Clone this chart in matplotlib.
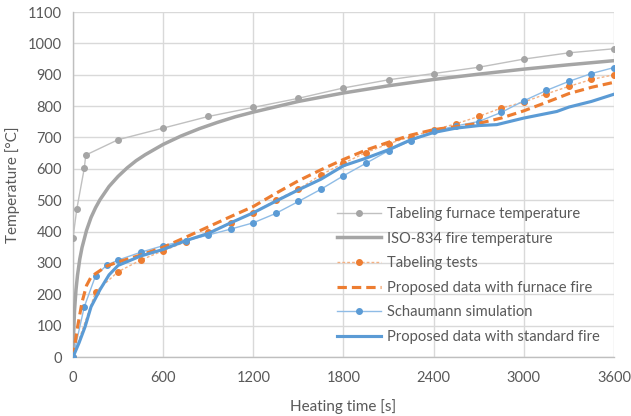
import matplotlib
matplotlib.use("Agg")
import matplotlib.pyplot as plt

# Tabeling furnace temperature
furn_t = [0, 25, 75, 85, 300, 600, 900, 1200, 1500, 1800, 2100, 2400, 2700, 3000, 3300, 3600]
furn_T = [380, 471, 602, 644, 693, 730, 767, 796, 825, 858, 884, 904, 924, 950, 970, 983]

# ISO-834 fire temperature
iso_t = [0, 10, 20, 30, 45, 60, 90, 120, 150, 180, 240, 300, 360, 420, 480, 600, 720, 840,
         960, 1080, 1200, 1500, 1800, 2100, 2400, 2700, 3000, 3300, 3600]
iso_T = [20, 147, 215, 261, 312, 349, 404, 445, 476, 502, 544, 576, 603, 626, 645, 678, 705, 728,
         748, 766, 781, 815, 842, 865, 885, 902, 918, 932, 945]

# Tabeling tests
tab_t = [0, 150, 300, 450, 600, 750, 900, 1050, 1200, 1350, 1500, 1650, 1800, 1950, 2100, 2250,
         2400, 2550, 2700, 2850, 3000, 3150, 3300, 3450, 3600]
tab_T = [0, 207, 272, 309, 339, 367, 398, 428, 460, 500, 535, 581, 618, 652, 680, 703,
         724, 744, 767, 794, 813, 839, 863, 885, 900]

# Proposed data with furnace fire
pf_t = [0, 30, 60, 90, 120, 150, 225, 300, 450, 600, 750, 900, 1050, 1200, 1350, 1500, 1650,
        1800, 1950, 2100, 2250, 2400, 2550, 2700, 2850, 3000, 3150, 3300, 3450, 3600]
pf_T = [0, 95, 175, 228, 255, 266, 290, 303, 325, 350, 382, 415, 448, 480, 522, 562, 597,
        630, 660, 685, 708, 725, 735, 745, 762, 785, 812, 840, 860, 876]

# Schaumann simulation
sch_t = [0, 75, 150, 225, 300, 450, 600, 750, 900, 1050, 1200, 1350, 1500, 1650, 1800, 1950,
         2100, 2250, 2400, 2550, 2700, 2850, 3000, 3150, 3300, 3450, 3600]
sch_T = [0, 160, 259, 293, 309, 334, 355, 371, 389, 408, 428, 458, 496, 535, 578, 618,
         658, 690, 720, 737, 751, 780, 817, 850, 879, 904, 923]

# Proposed data with standard fire
ps_t = [0, 40, 80, 120, 180, 240, 300, 450, 600, 750, 900, 1050, 1200, 1350, 1500, 1650, 1800,
        1950, 2100, 2250, 2400, 2550, 2700, 2820, 3000, 3220, 3300, 3450, 3600]
ps_T = [0, 45, 96, 160, 215, 262, 292, 322, 343, 371, 394, 428, 460, 497, 533, 567, 610,
        634, 661, 693, 716, 730, 738, 741, 762, 783, 797, 815, 838]

xticks = [0, 600, 1200, 1800, 2400, 3000, 3600]
yticks = list(range(0, 1101, 100))

plt.rcParams['font.family'] = ['Lato', 'DejaVu Sans']

fig = plt.figure(figsize=(6.31, 4.16), dpi=100)
ax = fig.add_axes([0.1157, 0.1418, 0.973 - 0.1157, 0.971 - 0.1418])

gray = '#a5a5a5'
orange = '#ed7d31'
blue = '#5b9bd5'

ax.plot(furn_t, furn_T, color='#c0c0c0', lw=1.0, marker='o', ms=4, mfc=gray, mec=gray,
        label='Tabeling furnace temperature', zorder=3)
ax.plot(iso_t, iso_T, color=gray, lw=2.5, label='ISO-834 fire temperature', zorder=3)
ax.plot(tab_t, tab_T, color='#f4b183', lw=1.0, ls=(0, (2, 1.5)), marker='o', ms=4,
        mfc=orange, mec=orange, label='Tabeling tests', zorder=3)
ax.plot(pf_t, pf_T, color=orange, lw=2.25, ls=(0, (3, 1.6)), label='Proposed data with furnace fire', zorder=4)
ax.plot(sch_t, sch_T, color='#8fbce6', lw=1.0, marker='o', ms=4, mfc=blue, mec=blue,
        label='Schaumann simulation', zorder=3)
ax.plot(ps_t, ps_T, color=blue, lw=2.25, label='Proposed data with standard fire', zorder=4)

ax.set_xlim(0, 3600)
ax.set_ylim(0, 1100)
ax.set_xticks(xticks)
ax.set_yticks(yticks)
ax.grid(True, color='#d9d9d9', lw=1.0)
ax.set_axisbelow(True)
for s in ['top', 'right']:
    ax.spines[s].set_visible(False)
ax.spines['left'].set_color('#bfbfbf')
ax.spines['bottom'].set_color('#bfbfbf')
ax.spines['left'].set_linewidth(1.0)
ax.spines['bottom'].set_linewidth(1.0)
ax.tick_params(length=0, labelsize=10.5, colors='#595959', pad=8)
ax.tick_params(axis='x', pad=10)

ax.set_xlabel('Heating time [s]', fontsize=11, color='#595959', labelpad=10)
ax.set_ylabel('Temperature [°C]', fontsize=11, color='#595959', labelpad=6)

leg = ax.legend(loc='lower right', bbox_to_anchor=(0.99, 0.012), frameon=False, fontsize=10.6,
                labelcolor='#595959', handlelength=3.0, handletextpad=0.4, labelspacing=0.72,
                borderaxespad=0.2)

fig.savefig('out.png', dpi=100)
